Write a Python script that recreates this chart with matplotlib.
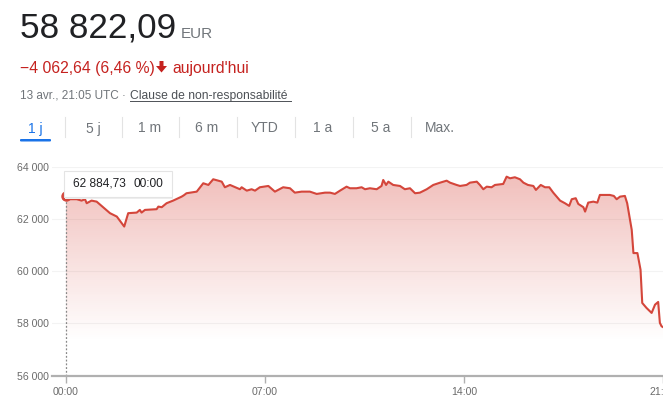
import matplotlib.pyplot as plt
import numpy as np
from matplotlib.patches import FancyBboxPatch, Polygon

plt.rcParams['font.family'] = ['Liberation Sans', 'DejaVu Sans']

W, H = 663, 404

# intraday prices (hour of day, EUR)
hours = [0.00, 0.14, 0.38, 0.55, 0.67, 0.73, 0.90, 1.08, 1.55, 1.79, 2.05, 2.19, 2.49, 2.60, 2.66,
         2.78, 3.19, 3.25, 3.37, 3.54, 3.77, 4.07, 4.15, 4.24, 4.60, 4.83, 5.01, 5.18, 5.36, 5.48,
         5.59, 5.77, 6.12, 6.18, 6.36, 6.53, 6.65, 6.82, 7.12, 7.35, 7.64, 7.88, 8.05, 8.29, 8.58,
         8.82, 9.11, 9.29, 9.46, 9.64, 9.87, 9.99, 10.22, 10.40, 10.52, 10.69, 10.93, 11.10, 11.16,
         11.26, 11.34, 11.51, 11.75, 11.92, 12.10, 12.28, 12.45, 12.69, 12.92, 13.16, 13.39, 13.51,
         13.74, 13.86, 14.09, 14.21, 14.45, 14.56, 14.68, 14.80, 14.97, 15.09, 15.38, 15.50, 15.62,
         15.79, 15.97, 16.09, 16.25, 16.44, 16.53, 16.70, 16.85, 17.00, 17.14, 17.38, 17.55, 17.70,
         17.79, 17.93, 18.02, 18.20, 18.26, 18.37, 18.55, 18.69, 18.78, 19.13, 19.27, 19.37, 19.49,
         19.66, 19.74, 19.90, 19.96, 20.10, 20.21, 20.27, 20.42, 20.60, 20.72, 20.83, 20.89, 20.95,
         21.00]
prices = [62885, 62774, 62774, 62720, 62774, 62620, 62720, 62681, 62237, 62107, 61723, 62237, 62260,
          62363, 62260, 62363, 62390, 62490, 62467, 62620, 62720, 62873, 62927, 63003, 63065, 63387,
          63322, 63540, 63486, 63448, 63233, 63322, 63157, 63233, 63103, 63157, 63103, 63233, 63283,
          63065, 63233, 63195, 63026, 63065, 63065, 62977, 63026, 63026, 62977, 63103, 63256, 63195,
          63195, 63233, 63157, 63195, 63157, 63283, 63513, 63322, 63448, 63322, 63283, 63157, 63195,
          63003, 63026, 63157, 63322, 63410, 63486, 63410, 63322, 63283, 63322, 63410, 63448, 63322,
          63157, 63256, 63233, 63322, 63360, 63640, 63578, 63617, 63540, 63410, 63322, 63283, 63130,
          63322, 63233, 63233, 63026, 62720, 62620, 62517, 62773, 62812, 62593, 62467, 62298, 62643,
          62681, 62643, 62938, 62938, 62900, 62773, 62873, 62900, 62620, 61597, 60704, 60704, 60064,
          58787, 58596, 58404, 58722, 58826, 58021, 57890, 57860]

y_ticks = [56000, 58000, 60000, 62000, 64000]
y_labels = ['56 000', '58 000', '60 000', '62 000', '64 000']
x_ticks = [0, 7, 14, 21]
x_labels = ['00:00', '07:00', '14:00', '21:00']
tabs = ['1 j', '5 j', '1 m', '6 m', 'YTD', '1 a', '5 a', 'Max.']
tab_x = [35, 93, 150, 207, 265, 323, 381, 440]

price_now = '58 822,09'
change = '\u22124 062,64 (6,46 %)'
tooltip_val = '62 884,73'
tooltip_time = '00:00'

RED_LINE = '#d4463b'
RED_TXT = '#c5221f'
GREY = '#70757a'
DARK = '#202124'
BLUE = '#1a73e8'


def fx(x):
    return x / W


def fy(y):
    return 1 - y / H


fig = plt.figure(figsize=(W / 100, H / 100), dpi=100)
fig.patch.set_facecolor('white')

# header
fig.text(fx(19.5), fy(37.5), price_now, fontsize=25.3, color=DARK, va='baseline')
fig.text(fx(181), fy(37.5), 'EUR', fontsize=11, color=GREY, va='baseline')
fig.text(fx(19.5), fy(72.5), change, fontsize=11.3, color=RED_TXT, va='baseline')
# thick down arrow
arrow = [(159.5, 61), (163.5, 61), (163.5, 66), (167, 66), (161.5, 72.5), (156, 66), (159.5, 66)]
fig.add_artist(Polygon([(fx(a), fy(b)) for a, b in arrow], closed=True, fc=RED_TXT, ec='none',
                       transform=fig.transFigure))
fig.text(fx(172), fy(72.5), "aujourd'hui", fontsize=11.3, color=RED_TXT, va='baseline')
fig.text(fx(19.5), fy(99), '13 avr., 21:05 UTC \u00b7', fontsize=8.5, color=GREY, va='baseline')
fig.text(fx(130), fy(99), 'Clause de non-responsabilité', fontsize=8.7, color='#4d5156',
         va='baseline')
fig.add_artist(plt.Line2D([fx(130), fx(291)], [fy(101), fy(101)], color='#4d5156', lw=0.7))

# range tabs
for i, (t, tx) in enumerate(zip(tabs, tab_x)):
    fig.text(fx(tx), fy(132.5), t, fontsize=10, color=BLUE if i == 0 else GREY,
             ha='center', va='baseline')
    if i < len(tabs) - 1:
        sx = (tx + tab_x[i + 1]) / 2 + 0.5
        fig.add_artist(plt.Line2D([fx(sx), fx(sx)], [fy(117), fy(137)], color='#e3e3e3', lw=0.8))
fig.add_artist(FancyBboxPatch((fx(20), fy(141.5)), fx(31), 2.5 / H,
                              boxstyle='round,pad=0,rounding_size=0.002',
                              fc=BLUE, ec='none'))

# chart
ax = fig.add_axes([fx(52), fy(375.5), fx(663) - fx(52), (375.5 - 167.3) / H])
ax.set_xlim(-0.49, 21.0)
ax.set_ylim(56000, 64000)

x = np.array(hours)
y = np.array(prices)

# gradient fill under the line
grad = np.zeros((256, 1, 4))
levels = np.linspace(56000, 64000, 256)
grad[:, 0, 0] = 0.84
grad[:, 0, 1] = 0.27
grad[:, 0, 2] = 0.23
grad[:, 0, 3] = np.clip((levels - 57300) / (63600 - 57300), 0, 1) * 0.34
im = ax.imshow(grad, extent=[-0.49, 21.0, 56000, 64000], origin='lower', aspect='auto',
               zorder=1)
poly = ax.fill_between(x, y, 56000, color='none', lw=0)
clip = poly.get_paths()[0]
im.set_clip_path(clip, transform=ax.transData)

ax.plot(x, y, color=RED_LINE, lw=1.5, zorder=3, solid_joinstyle='round')

ax.plot([0, 0], [56000, prices[0]], color='#888888', lw=0.9, ls=(0, (1.5, 1.5)), zorder=2)
ax.plot([hours[0]], [prices[0]], 'o', color=RED_LINE, ms=6.5, zorder=4)

for v in y_ticks[1:]:
    ax.axhline(v, color='#f3f3f3', lw=0.8, zorder=0)

for s in ['top', 'right', 'left']:
    ax.spines[s].set_visible(False)
ax.spines['bottom'].set_color('#b0b0b0')
ax.spines['bottom'].set_linewidth(1.6)

ax.set_yticks(y_ticks)
ax.set_yticklabels(y_labels)
ax.tick_params(axis='y', length=0, pad=2, labelsize=7.6, labelcolor='#6b6b6b')
ax.set_xticks(x_ticks)
ax.set_xticklabels(x_labels)
ax.tick_params(axis='x', length=5, width=1.0, color='#b0b0b0', pad=3,
               labelsize=7.6, labelcolor='#6b6b6b')

# tooltip
box = FancyBboxPatch((fx(64), fy(197)), fx(108), 26 / H, boxstyle='square,pad=0',
                     fc='white', ec='#e4e4e4', lw=0.8, transform=fig.transFigure, zorder=5)
shadow = FancyBboxPatch((fx(65), fy(198.5)), fx(108), 26 / H, boxstyle='square,pad=0',
                        fc='#eeeeee', ec='none', transform=fig.transFigure, zorder=4)
fig.add_artist(shadow)
fig.add_artist(box)
fig.text(fx(73), fy(184), tooltip_val, fontsize=8.6, color=DARK, va='center', zorder=6)
fig.text(fx(133), fy(184), tooltip_time, fontsize=8.6, color=DARK, va='center', zorder=6)

fig.savefig('out.png', dpi=100, facecolor='white')
